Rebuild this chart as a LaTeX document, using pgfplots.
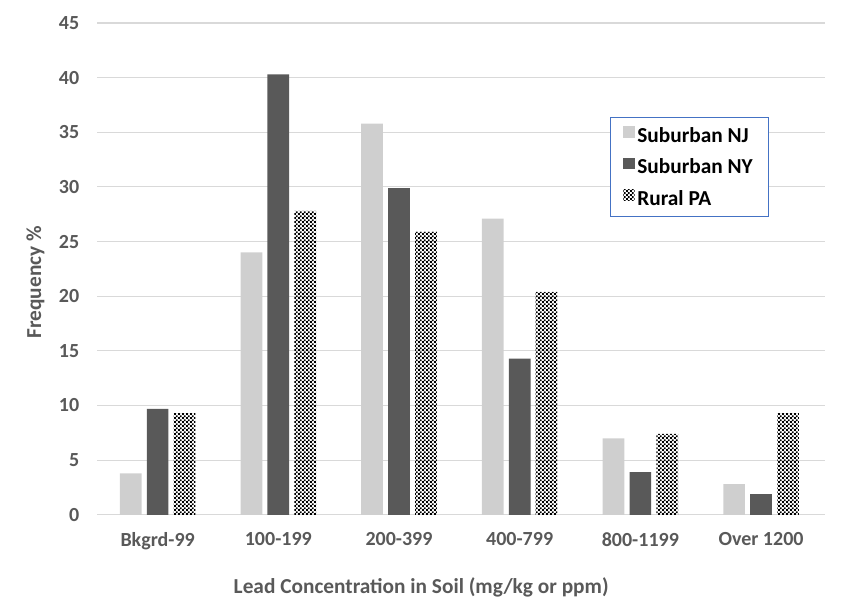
\documentclass[border=0pt]{standalone}
\usepackage{pgfplots}
\pgfplotsset{compat=1.18}
\usepackage{fontspec}
\setmainfont{Carlito}
\usetikzlibrary{patterns}

\definecolor{njgray}{HTML}{CFCFCF}
\definecolor{nygray}{HTML}{595959}
\definecolor{txtgray}{HTML}{595959}
\definecolor{gridgray}{HTML}{D9D9D9}
\definecolor{legblue}{HTML}{4472C4}

% small black/white checkerboard for the PA bars
\pgfdeclarepatternformonly{finecheck}{\pgfpointorigin}{\pgfpoint{3.2pt}{3.2pt}}{\pgfpoint{3.2pt}{3.2pt}}{%
  \pgfpathrectangle{\pgfpointorigin}{\pgfpoint{1.6pt}{1.6pt}}%
  \pgfpathrectangle{\pgfpoint{1.6pt}{1.6pt}}{\pgfpoint{1.6pt}{1.6pt}}%
  \pgfusepath{fill}}

\begin{document}
\begin{tikzpicture}
\begin{axis}[
  name=ax,
  scale only axis,
  width=546pt, height=369pt,
  ybar,
  bar width=0.18,
  xmin=-0.5, xmax=5.53,
  ymin=0, ymax=45,
  ytick={0,5,...,45},
  xtick={0,...,5},
  xticklabels={Bkgrd-99,100-199,200-399,400-799,800-1199,Over 1200},
  ymajorgrids, grid style={gridgray, line width=0.8pt},
  axis x line*=bottom, axis y line*=left,
  x axis line style={gridgray, line width=0.8pt, -},
  y axis line style={draw=none},
  major tick length=0pt,
  /pgf/number format/assume math mode=true,
  tick label style={font=\bfseries\fontsize{15}{17}\selectfont, text=txtgray},
  yticklabel style={xshift=-10pt},
  xticklabel style={yshift=-10pt},
  ylabel={\bfseries Frequency \%},
  xlabel={\bfseries Lead Concentration in Soil (mg/kg or ppm)},
  label style={font=\fontsize{16}{18}\selectfont, text=txtgray},
  ylabel style={yshift=4pt, xshift=-10pt},
  xlabel style={yshift=-14pt, xshift=-30pt},
  legend style={at={(0.704,0.808)}, anchor=north west, draw=legblue, line width=0.6pt,
    font=\bfseries\fontsize{16}{18}\selectfont, row sep=7pt, inner xsep=10pt, inner ysep=5pt},
  legend cell align=left,
  legend image code/.code={\draw[#1, draw=none] (0cm,-0.05cm) rectangle (0.3cm,0.25cm);},
]
\addplot[fill=njgray, draw=none, bar shift=-0.223] coordinates {
  (0,3.8) (1,24.0) (2,35.8) (3,27.1) (4,7.0) (5,2.8)};
\addlegendentry{Suburban NJ}
\addplot[fill=nygray, draw=none, bar shift=0] coordinates {
  (0,9.7) (1,40.3) (2,29.9) (3,14.3) (4,3.9) (5,1.9)};
\addlegendentry{Suburban NY}
\addplot[pattern=finecheck, pattern color=black, draw=none, bar shift=0.223] coordinates {
  (0,9.3) (1,27.8) (2,25.9) (3,20.4) (4,7.4) (5,9.3)};
\addlegendentry{Rural PA}
\end{axis}
\pgfresetboundingbox
\path (ax.south west) ++(-73pt,-73.5pt) coordinate (bl);
\path (ax.north east) ++(13.5pt,17.25pt) coordinate (tr);
\path (bl) rectangle (tr);
\end{tikzpicture}
\end{document}
